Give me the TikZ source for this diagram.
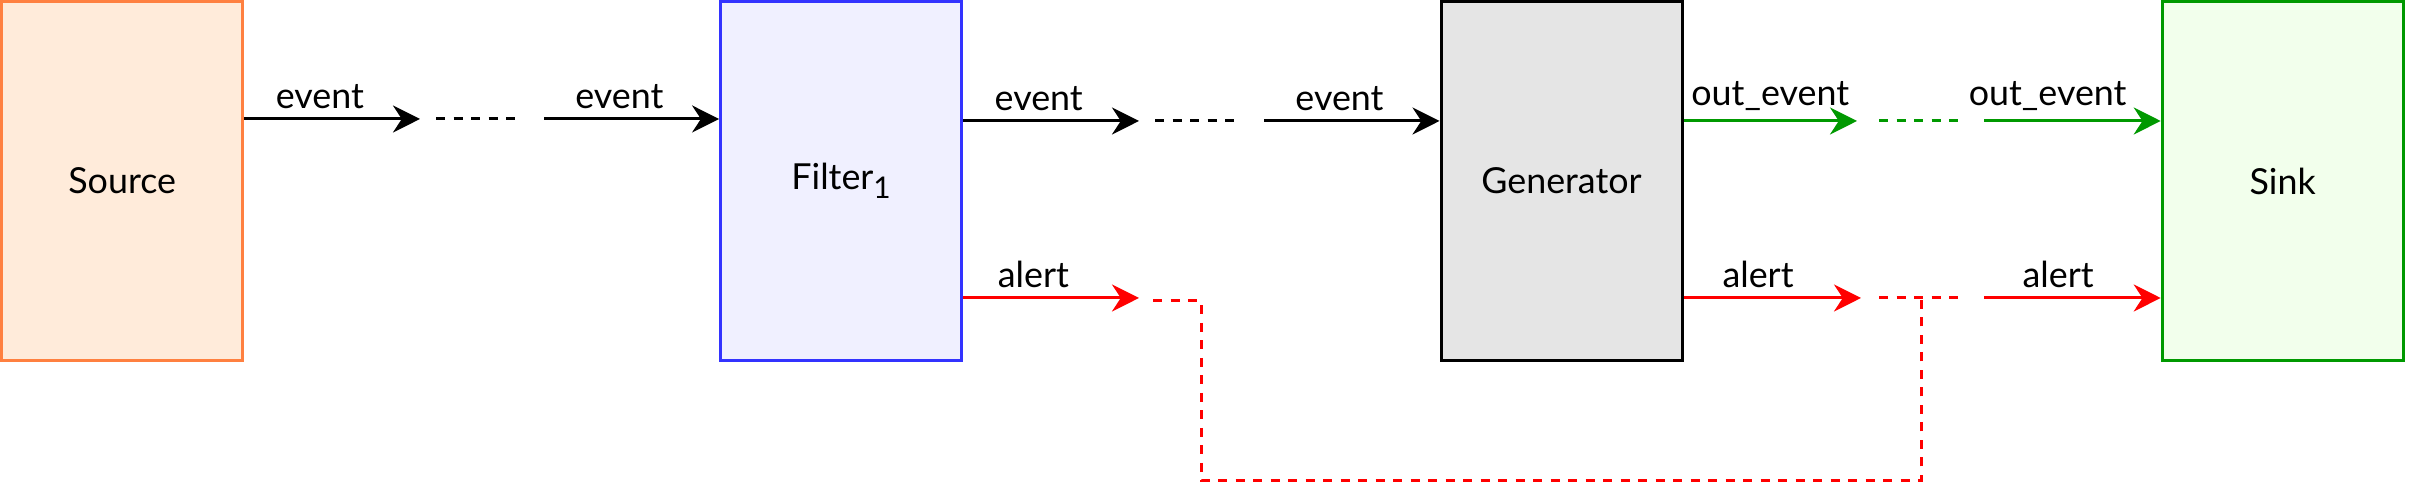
\documentclass[tikz,border=0pt]{standalone}
\usepackage{fontspec}
\setmainfont{Lato}
\usepackage{xcolor}
\usepackage{tikz}
\usetikzlibrary{arrows.meta,positioning,calc}

\definecolor{srcfill}{RGB}{255,235,218}
\definecolor{srcdraw}{RGB}{255,128,64}
\definecolor{fltfill}{RGB}{240,240,255}
\definecolor{fltdraw}{RGB}{51,51,255}
\definecolor{genfill}{RGB}{229,229,229}
\definecolor{gendraw}{RGB}{0,0,0}
\definecolor{snkfill}{RGB}{242,255,236}
\definecolor{snkdraw}{RGB}{0,153,0}
\definecolor{alertred}{RGB}{255,0,0}

\begin{document}
\begin{tikzpicture}[font=\fontsize{10.2}{12}\selectfont,
  box/.style={draw,rectangle,line width=0.85pt,minimum width=2.41cm,minimum height=3.59cm,inner sep=0pt},
  msg/.style={-{Stealth[length=0.27cm,width=0.27cm]},line width=0.85pt},
  gap/.style={line width=0.85pt,dash pattern=on 0.09cm off 0.085cm},
  lbl/.style={above,inner sep=2.5pt,text=black},
]
  \useasboundingbox (0,0) rectangle (24.09,-4.89);

  \foreach \id/\name/\x/\col in {src/Source/1.222/src,flt/{Filter\raisebox{-0.5ex}{\fontsize{8.5}{9}\selectfont 1}}/8.411/flt,gen/Generator/15.615/gen,snk/Sink/22.827/snk} {
    \node[box,draw=\col draw,fill=\col fill] (\id) at (\x,-1.81) {\name};
  }

  % event row
  \coordinate (e1) at (4.20,-1.19);
  \coordinate (e2) at (5.44,-1.19);
  \coordinate (e3) at (11.39,-1.21);
  \coordinate (e4) at (12.64,-1.21);
  \coordinate (o1) at (18.57,-1.21);
  \coordinate (o2) at (19.84,-1.21);

  \draw[msg] (src.east |- e1) -- node[lbl,pos=0.43]{event} (e1);
  \draw[gap] (4.36,-1.19) -- (5.18,-1.19);
  \draw[msg] (e2) -- node[lbl,pos=0.43]{event} (flt.west |- e2);
  \draw[msg] (flt.east |- e3) -- node[lbl,pos=0.43]{event} (e3);
  \draw[gap] (11.55,-1.21) -- (12.36,-1.21);
  \draw[msg] (e4) -- node[lbl,pos=0.43]{event} (gen.west |- e4);

  \draw[msg,snkdraw] (gen.east |- o1) -- node[lbl,pos=0.5]{out\_event} (o1);
  \draw[gap,snkdraw] (18.79,-1.21) -- (19.60,-1.21);
  \draw[msg,snkdraw] (o2) -- node[lbl,pos=0.36]{out\_event} (snk.west |- o2);

  % alert row
  \coordinate (a1) at (11.39,-2.98);
  \coordinate (a2) at (18.61,-2.98);
  \coordinate (a3) at (19.84,-2.98);
  \coordinate (jn) at (19.21,-2.98);

  \draw[msg,alertred] (flt.east |- a1) -- node[lbl,pos=0.4]{alert} (a1);
  \draw[gap,alertred] (11.53,-3.01) -- (12.01,-3.01) -- (12.01,-4.81) -- (jn |- 0,-4.81) -- (jn);
  \draw[msg,alertred] (gen.east |- a2) -- node[lbl,pos=0.42]{alert} (a2);
  \draw[gap,alertred] (18.79,-2.98) -- (19.60,-2.98);
  \draw[msg,alertred] (a3) -- node[lbl,pos=0.42]{alert} (snk.west |- a3);
\end{tikzpicture}
\end{document}
